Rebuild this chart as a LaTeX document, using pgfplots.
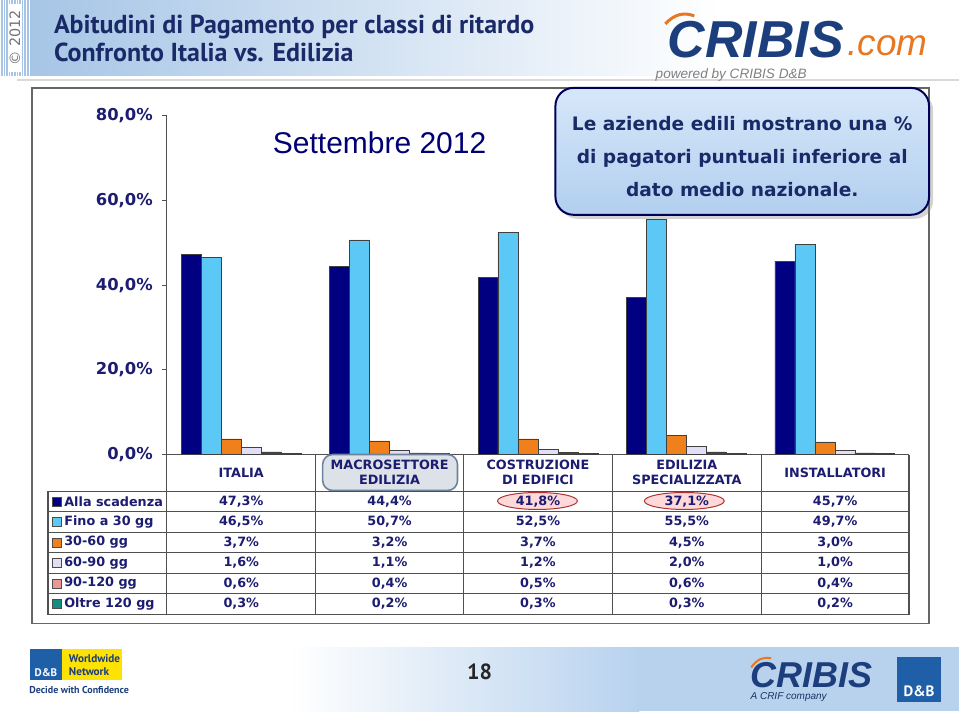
\documentclass[border=0pt]{standalone}
\usepackage{pgfplots}
\pgfplotsset{compat=1.18}
\usepackage{pgfplotstable}
\usepackage{fontspec}
\setmainfont{DejaVu Sans}
\newfontfamily\ptsans{PT Sans}
\newfontfamily\lib{Liberation Sans}
\usetikzlibrary{shadows}

\definecolor{navy}{RGB}{0,0,128}
\definecolor{skyb}{RGB}{92,200,245}
\definecolor{orng}{RGB}{240,128,28}
\definecolor{lav}{RGB}{226,222,246}
\definecolor{dkbr}{RGB}{78,66,64}
\definecolor{teal2}{RGB}{20,140,128}
\definecolor{pinkl}{RGB}{232,150,150}
\definecolor{txtnavy}{RGB}{28,28,112}
\definecolor{titleblue}{RGB}{26,42,104}
\definecolor{hdrblue}{RGB}{166,197,230}
\definecolor{ftblue}{RGB}{184,210,238}
\definecolor{cribis}{RGB}{28,62,124}
\definecolor{cribisor}{RGB}{232,119,34}
\definecolor{tabline}{RGB}{80,80,80}
\definecolor{dnb}{RGB}{31,95,168}
\definecolor{boxtop}{RGB}{214,231,249}
\definecolor{boxbot}{RGB}{178,207,239}
\definecolor{hlfill}{RGB}{221,226,232}
\definecolor{hldraw}{RGB}{110,130,155}

% classi di ritardo per settore (%)
\pgfplotstableread{
x a    b    c   d   e   f
0 47.3 46.5 3.7 1.6 0.6 0.3
1 44.4 50.7 3.2 1.1 0.4 0.2
2 41.8 52.5 3.7 1.2 0.5 0.3
3 37.1 55.5 4.5 2.0 0.6 0.3
4 45.7 49.7 3.0 1.0 0.4 0.2
}\ritardi

\newcommand\tabfont{\fontsize{6.4}{7.5}\selectfont\bfseries\color{txtnavy}}
\newcommand\row[6]{%
  \node[font=\tabfont] at (241.5,#1) {#2};
  \node[font=\tabfont] at (390,#1) {#3};
  \node[font=\tabfont] at (538.5,#1) {#4};
  \node[font=\tabfont] at (687.5,#1) {#5};
  \node[font=\tabfont] at (836,#1) {#6};}

\begin{document}
\begin{tikzpicture}[x=0.5pt,y=-0.5pt]
\path (0,0) rectangle (960,716);

% header band
\shade[left color=hdrblue, right color=white] (28,0) rectangle (720,76);
\fill[hdrblue] (0,0) rectangle (30,76);
\foreach \i in {0,2.6,...,29} \fill[white] (\i,0) rectangle (\i+1.1,76);
\fill[white] (9,4) rectangle (21,72);
\node[rotate=90, text=black!55, font=\fontsize{7.2}{8}\selectfont] at (15,38) {© 2012};
\draw[black!15, line width=1pt] (17,80) -- (960,80);
\node[anchor=west, text=titleblue, font=\ptsans\bfseries\fontsize{13}{14}\selectfont] at (47,27) {Abitudini di Pagamento per classi di ritardo};
\node[anchor=west, text=titleblue, font=\ptsans\bfseries\fontsize{13}{14}\selectfont] at (47,52) {Confronto Italia vs. Edilizia};

% logo in alto
\draw[cribisor, line width=1.5pt] (666,24) .. controls (675,14) and (685,12) .. (695,16);
\node[anchor=base west, text=cribis, font=\lib\bfseries\itshape\fontsize{26}{28}\selectfont, inner sep=0pt, text depth=0pt] at (668,58) {CRIBIS};
\node[anchor=base west, text=cribisor, font=\lib\itshape\fontsize{18.5}{20}\selectfont, inner sep=0pt, text depth=0pt] at (848,56) {.com};
\node[anchor=west, text=black!50, font=\lib\itshape\fontsize{6.8}{8}\selectfont, inner sep=0pt] at (656,75) {powered by CRIBIS D\&B};

% cornice del grafico
\draw[black!60, line width=0.8pt] (32,88) rectangle (930,624);

\begin{axis}[
  at={(83.5pt,-227.5pt)}, anchor=south west,
  scale only axis, width=371.5pt, height=169.5pt,
  xmin=-0.5, xmax=4.5, ymin=0, ymax=80,
  axis x line=bottom, axis y line=left,
  axis line style={-, draw=tabline, line width=0.6pt},
  xtick=\empty,
  ytick={0,20,40,60,80},
  yticklabels={{0,0\%},{20,0\%},{40,0\%},{60,0\%},{80,0\%}},
  yticklabel style={font=\fontsize{8.2}{10}\selectfont\bfseries, text=txtnavy, xshift=-1pt},
  tick align=outside, major tick length=2.5pt,
  tick style={draw=tabline, line width=0.5pt},
  ybar=0pt, bar width=10pt,
  every axis plot/.append style={draw=black!75, line width=0.3pt},
  clip=false,
]
\addplot[fill=navy] table[x=x, y=a] {\ritardi};
\addplot[fill=skyb] table[x=x, y=b] {\ritardi};
\addplot[fill=orng] table[x=x, y=c] {\ritardi};
\addplot[fill=lav] table[x=x, y=d] {\ritardi};
\addplot[fill=dkbr] table[x=x, y=e] {\ritardi};
\addplot[fill=teal2] table[x=x, y=f] {\ritardi};
\end{axis}

% riquadro evidenziato
\draw[fill=hlfill, draw=hldraw, line width=0.8pt, rounded corners=5pt] (323,455) rectangle (458,491);

% tabella
\foreach \xx in {167,316,464,613,762,910} \draw[tabline, line width=0.6pt] (\xx,455) -- (\xx,615);
\draw[tabline, line width=0.6pt] (48,492) rectangle (910,615);
\foreach \yy in {512,533,553,574,594} \draw[tabline, line width=0.6pt] (48,\yy) -- (910,\yy);

\node[font=\tabfont] at (241.5,473) {ITALIA};
\node[font=\tabfont, align=center] at (390,473) {MACROSETTORE\\EDILIZIA};
\node[font=\tabfont, align=center] at (538.5,473) {COSTRUZIONE\\DI EDIFICI};
\node[font=\tabfont, align=center] at (687.5,473) {EDILIZIA\\SPECIALIZZATA};
\node[font=\tabfont] at (836,473) {INSTALLATORI};

\foreach \lab/\col/\yy in {Alla scadenza/navy/502, Fino a 30 gg/skyb/522.5, 30-60 gg/orng/543, 60-90 gg/lav/563.5, 90-120 gg/pinkl/584, Oltre 120 gg/teal2/604.5}{
  \filldraw[fill=\col, draw=black!70, line width=0.3pt] (52,\yy-4.5) rectangle (61,\yy+4.5);
  \node[anchor=west, font=\tabfont, inner sep=0pt] at (64,\yy) {\lab};
}

\filldraw[fill=red!15, draw=red!60!black!80, line width=0.5pt] (538,501.5) ellipse (40 and 8.5);
\filldraw[fill=red!15, draw=red!60!black!80, line width=0.5pt] (685,501.5) ellipse (40 and 8.5);

\row{502}{47,3\%}{44,4\%}{41,8\%}{37,1\%}{45,7\%}
\row{522.5}{46,5\%}{50,7\%}{52,5\%}{55,5\%}{49,7\%}
\row{543}{3,7\%}{3,2\%}{3,7\%}{4,5\%}{3,0\%}
\row{563.5}{1,6\%}{1,1\%}{1,2\%}{2,0\%}{1,0\%}
\row{584}{0,6\%}{0,4\%}{0,5\%}{0,6\%}{0,4\%}
\row{604.5}{0,3\%}{0,2\%}{0,3\%}{0,3\%}{0,2\%}

% testi
\node[text=blue!45!black, font=\lib\fontsize{15}{18}\selectfont] at (380,143) {Settembre 2012};
\draw[top color=boxtop, bottom color=boxbot, draw=black!65!blue, line width=1pt, rounded corners=9pt, drop shadow={shadow xshift=2pt, shadow yshift=-2pt, opacity=0.35}] (556,88) rectangle (930,215);
\node[align=center, text=titleblue, font=\bfseries\fontsize{9.3}{16.5}\selectfont] at (743,157) {Le aziende edili mostrano una \%\\di pagatori puntuali inferiore al\\dato medio nazionale.};

% pie di pagina
\shade[left color=white, right color=ftblue] (290,648) rectangle (640,712);
\fill[ftblue] (640,648) rectangle (960,712);
\node[font=\ptsans\bfseries\fontsize{11}{12}\selectfont, text=black!85] at (480,672) {18};

\fill[dnb] (30,650) rectangle (62,681);
\node[text=white, font=\ptsans\bfseries\fontsize{5.5}{6}\selectfont] at (46,673) {D\&B};
\fill[yellow!85!orange] (62,650) rectangle (122,681);
\node[anchor=west, align=left, text=cribis, font=\ptsans\bfseries\fontsize{5.6}{6.4}\selectfont] at (62,665.5) {Worldwide\\Network};
\node[anchor=west, text=cribis, font=\ptsans\bfseries\fontsize{5}{6}\selectfont, inner sep=0pt] at (29,691) {Decide with Confidence};

\draw[cribisor, line width=1pt] (752,668) .. controls (758,660) and (764,657) .. (772,659);
\node[anchor=base west, text=cribis, font=\lib\bfseries\itshape\fontsize{18}{20}\selectfont, inner sep=0pt, text depth=0pt] at (751,688) {CRIBIS};
\node[anchor=west, text=cribis!80!black, font=\lib\itshape\fontsize{5}{6}\selectfont, inner sep=0pt] at (751,698) {A CRIF company};
\fill[dnb] (898,658) rectangle (942,703);
\node[text=white, font=\ptsans\bfseries\fontsize{7.5}{8}\selectfont] at (920,692) {D\&B};
\end{tikzpicture}
\end{document}
